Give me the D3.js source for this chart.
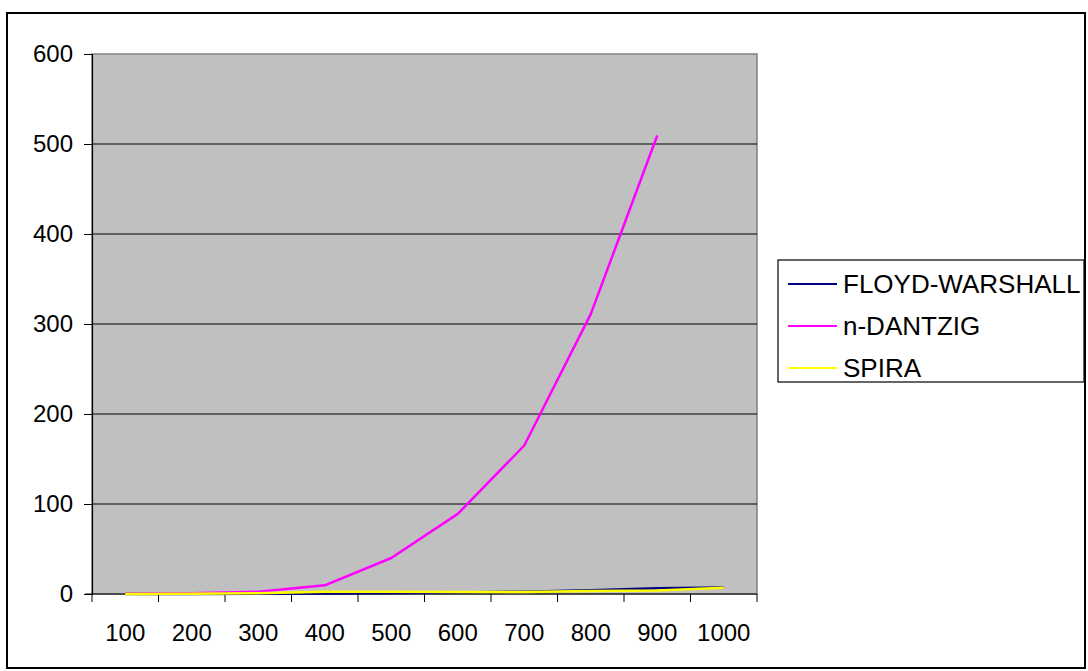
<!DOCTYPE html>
<html>
<head>
<meta charset="utf-8">
<script src="https://cdn.jsdelivr.net/npm/d3@7"></script>
<style>
  body { margin: 0; background: #fff; }
  svg text { font-family: Arial, "Liberation Sans", sans-serif; fill: #000; }
</style>
</head>
<body>
<div id="chart"></div>
<script>
// datos
const categories = ['100', '200', '300', '400', '500', '600', '700', '800', '900', '1000'];
const floydWarshall = [0.05, 0.1, 0.2, 0.6, 1.2, 1.8, 2.6, 4.2, 6.5, 7.2];
const nDantzig = [0.2, 0.8, 2.5, 9.6, 40, 89, 165, 311, 509.5, null];
const spira = [0.1, 0.4, 0.9, 2.4, 2.6, 2.3, 2.3, 3.2, 3.8, 7];
const yTicks = [0, 100, 200, 300, 400, 500, 600];
const seriesNames = ['FLOYD-WARSHALL', 'n-DANTZIG', 'SPIRA'];
const seriesColors = ['#000080', '#ff00ff', '#ffff00'];

const series = [floydWarshall, nDantzig, spira].map((vals, i) => ({
    name: seriesNames[i],
    color: seriesColors[i],
    values: vals
}));

const W = 1088, H = 671;
const plot = { left: 92, top: 54, right: 757, bottom: 594 };

const svg = d3.select('#chart').append('svg')
    .attr('width', W)
    .attr('height', H);

// marco exterior
svg.append('rect')
    .attr('x', 7).attr('y', 13)
    .attr('width', 1078).attr('height', 655)
    .attr('fill', '#fff')
    .attr('stroke', '#000')
    .attr('stroke-width', 2);

const x = d3.scaleBand().domain(categories).range([plot.left, plot.right]);
const y = d3.scaleLinear().domain([0, 600]).range([plot.bottom, plot.top]);

// area de trazado
svg.append('rect')
    .attr('x', plot.left).attr('y', plot.top)
    .attr('width', plot.right - plot.left)
    .attr('height', plot.bottom - plot.top)
    .attr('fill', '#c0c0c0')
    .attr('stroke', '#808080')
    .attr('stroke-width', 1.5);

// lineas de cuadricula
svg.append('g')
    .selectAll('line')
    .data(yTicks.filter(t => t > 0 && t < 600))
    .enter()
    .append('line')
    .attr('x1', plot.left).attr('x2', plot.right)
    .attr('y1', d => y(d)).attr('y2', d => y(d))
    .attr('stroke', '#000')
    .attr('stroke-width', 1);

// eje Y
const yAxis = svg.append('g')
    .attr('transform', `translate(${plot.left},0)`)
    .call(d3.axisLeft(y).tickValues(yTicks).tickSize(8).tickPadding(11));
yAxis.select('.domain').attr('stroke', '#000').attr('stroke-width', 1.2);
yAxis.selectAll('.tick line').attr('stroke', '#000');
yAxis.selectAll('.tick text')
    .style('font-size', '24px')
    .attr('fill', '#000');

// eje X
const xAxis = svg.append('g')
    .attr('transform', `translate(0,${plot.bottom})`)
    .call(d3.axisBottom(x).tickSize(0).tickPadding(0));
xAxis.select('.domain').remove();
xAxis.selectAll('.tick text')
    .style('font-size', '24px')
    .attr('y', 47)
    .attr('dy', 0)
    .attr('fill', '#000');

// linea del cero y marcas de categoria
svg.append('line')
    .attr('x1', plot.left - 7).attr('x2', plot.right)
    .attr('y1', plot.bottom).attr('y2', plot.bottom)
    .attr('stroke', '#000')
    .attr('stroke-width', 1.2);
const bounds = categories.map(c => x(c)).concat([plot.right]);
svg.append('g')
    .selectAll('line')
    .data(bounds)
    .enter()
    .append('line')
    .attr('x1', d => d).attr('x2', d => d)
    .attr('y1', plot.bottom).attr('y2', plot.bottom + 8)
    .attr('stroke', '#000')
    .attr('stroke-width', 1);

// series
const line = d3.line()
    .defined(d => d.v !== null)
    .x(d => x(d.c) + x.bandwidth() / 2)
    .y(d => y(d.v));

svg.append('g')
    .selectAll('path')
    .data(series)
    .enter()
    .append('path')
    .attr('d', s => line(s.values.map((v, i) => ({ c: categories[i], v: v }))))
    .attr('fill', 'none')
    .attr('stroke', s => s.color)
    .attr('stroke-width', 2.5)
    .attr('stroke-linejoin', 'round');

// leyenda
const legend = svg.append('g');
legend.append('rect')
    .attr('x', 778).attr('y', 260)
    .attr('width', 306).attr('height', 122)
    .attr('fill', '#fff')
    .attr('stroke', '#000')
    .attr('stroke-width', 1.2);

const rows = legend.selectAll('g.row')
    .data(series)
    .enter()
    .append('g')
    .attr('class', 'row')
    .attr('transform', (d, i) => `translate(0,${284 + i * 42})`);
rows.append('line')
    .attr('x1', 788).attr('x2', 837)
    .attr('y1', 0).attr('y2', 0)
    .attr('stroke', d => d.color)
    .attr('stroke-width', 2);
rows.append('text')
    .attr('x', 843)
    .attr('y', 0)
    .attr('dy', '0.36em')
    .style('font-size', '26px')
    .text(d => d.name);
</script>
</body>
</html>
